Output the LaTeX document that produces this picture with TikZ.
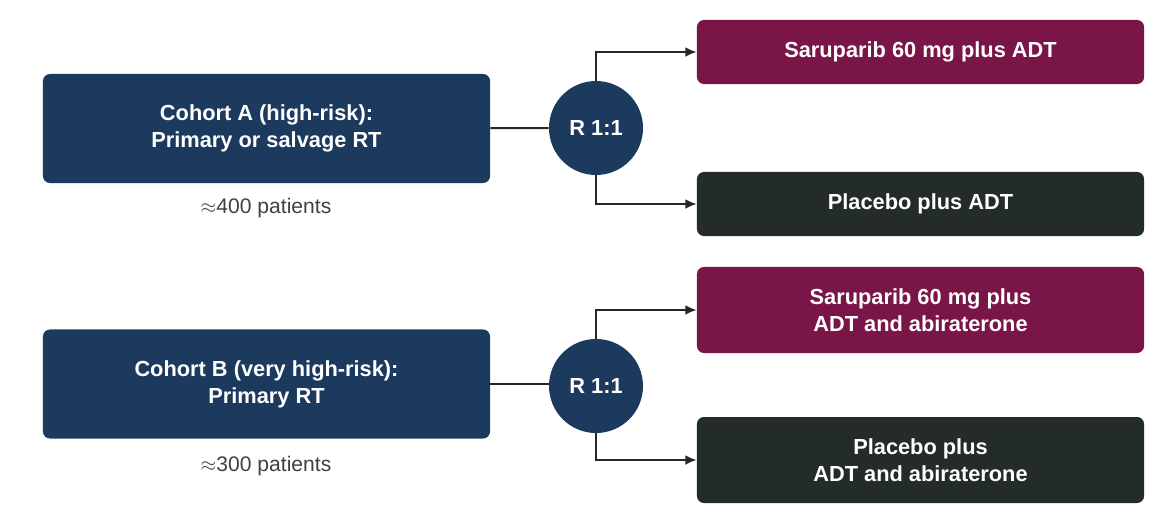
\documentclass[tikz,border=0pt]{standalone}
\usepackage{fontspec}
\setmainfont{Liberation Sans}
\usetikzlibrary{positioning,arrows.meta}
\definecolor{cohortblue}{HTML}{1B3A5E}
\definecolor{armred}{HTML}{7A1548}
\definecolor{armdark}{HTML}{232B2B}
\begin{document}
\begin{tikzpicture}[
    x=0.025cm, y=-0.025cm,
    >={Latex[length=8pt,width=7pt]},
    cohort/.style={rectangle, rounded corners=5pt, fill=cohortblue, text=white, align=center, font=\fontsize{15.5}{19}\selectfont\bfseries, minimum width=11.175cm, minimum height=2.725cm},
    arm/.style={rectangle, rounded corners=5pt, align=center, text=white, font=\fontsize{15.5}{19}\selectfont\bfseries, minimum width=11.175cm, minimum height=1.6cm},
    rand/.style={circle, fill=cohortblue, text=white, font=\fontsize{15.5}{19}\selectfont\bfseries, minimum size=2.35cm, inner sep=0pt},
    count/.style={text=black!75, font=\fontsize{15}{18}\selectfont},
    link/.style={draw=black!85, line width=1.4pt}
  ]
    \useasboundingbox (0,0) rectangle (1170,522);

    \node[cohort] (cohA) at (266.5,128.5) {Cohort A (high-risk):\\Primary or salvage RT};
    \node[count] (nA) at (266,208) {$\approx$400 patients};
    \node[rand] (randA) at (596,128) {R 1:1};
    \node[arm, fill=armred] (saruA) at (920.5,52) {Saruparib 60 mg plus ADT};
    \node[arm, fill=armdark] (placA) at (920.5,204) {Placebo plus ADT};

    \node[cohort] (cohB) at (266.5,384) {Cohort B (very high-risk):\\Primary RT};
    \node[count] (nB) at (266,466) {$\approx$300 patients};
    \node[rand] (randB) at (596,386) {R 1:1};
    \node[arm, fill=armred, minimum height=2.15cm] (saruB) at (920.5,310) {Saruparib 60 mg plus\\ADT and abiraterone};
    \node[arm, fill=armdark, minimum height=2.15cm] (placB) at (920.5,460) {Placebo plus\\ADT and abiraterone};

    \draw[link] (cohA) -- (randA);
    \draw[link, ->] (randA.north) |- (saruA.west);
    \draw[link, ->] (randA.south) |- (placA.west);
    \draw[link] (cohB.east) -- (randB.west |- cohB.east);
    \draw[link, ->] (randB.north) |- (saruB.west);
    \draw[link, ->] (randB.south) |- (placB.west);
\end{tikzpicture}
\end{document}
